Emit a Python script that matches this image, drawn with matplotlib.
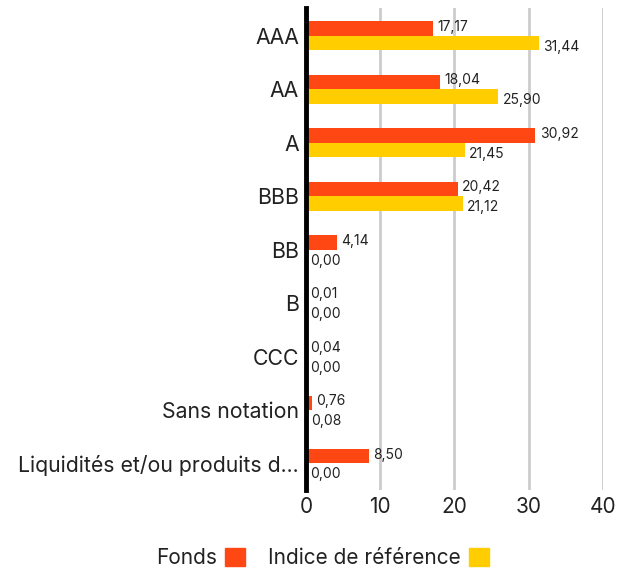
import numpy as np
import matplotlib.pyplot as plt
import matplotlib.patches as mpatches

plt.rcParams['font.family'] = ['Inter', 'DejaVu Sans']

categories = ['AAA', 'AA', 'A', 'BBB', 'BB', 'B', 'CCC', 'Sans notation',
              'Liquidités et/ou produits d...']
fonds = [17.17, 18.04, 30.92, 20.42, 4.14, 0.01, 0.04, 0.76, 8.50]
indice = [31.44, 25.90, 21.45, 21.12, 0.00, 0.00, 0.00, 0.08, 0.00]
xticks = [0, 10, 20, 30, 40]

c_fonds = '#FF4713'
c_indice = '#FFCD00'

fig = plt.figure(figsize=(6.32, 5.72), dpi=100)
ax = fig.add_axes([0.484, 0.143, 0.47, 0.843])

y = np.arange(len(categories))
h = 0.27
ax.barh(y - h / 2, fonds, height=h, color=c_fonds, zorder=3)
ax.barh(y + h / 2, indice, height=h, color=c_indice, zorder=3)

def fmt(v):
    return ('%.2f' % v).replace('.', ',')

for i in range(len(categories)):
    ax.annotate(fmt(fonds[i]), (fonds[i], y[i] - h / 2 - 0.03), xytext=(3, 0),
                textcoords='offset points', va='center', ha='left',
                fontsize=10, color='#222222')
    ax.annotate(fmt(indice[i]), (indice[i], y[i] + h / 2 + 0.07), xytext=(3, 0),
                textcoords='offset points', va='center', ha='left',
                fontsize=10, color='#222222')

ax.set_xlim(0, 40)
ax.set_ylim(len(categories) - 0.5, -0.52)
ax.set_xticks(xticks)
ax.set_xticklabels([str(t) for t in xticks], fontsize=15, color='#222222')
ax.set_yticks(y)
ax.set_yticklabels(categories, fontsize=15.3, color='#222222')
ax.tick_params(axis='y', length=0, pad=5)
ax.tick_params(axis='x', length=0, pad=5)
ax.grid(axis='x', color='#cccccc', linewidth=2, zorder=0)

for s in ['top', 'right', 'bottom']:
    ax.spines[s].set_visible(False)
ax.spines['left'].set_linewidth(3.5)
ax.spines['left'].set_color('black')
ax.spines['left'].set_zorder(5)

handles = [mpatches.Patch(color=c_fonds, label='Fonds'),
           mpatches.Patch(color=c_indice, label='Indice de référence')]
fig.legend(handles=handles, loc='center', bbox_to_anchor=(0.51, 0.024),
           ncol=2, frameon=False, markerfirst=False, fontsize=15,
           handlelength=0.95, handleheight=0.95, handletextpad=0.4,
           columnspacing=1.1, labelcolor='#222222')

fig.savefig('out.png', dpi=100)
